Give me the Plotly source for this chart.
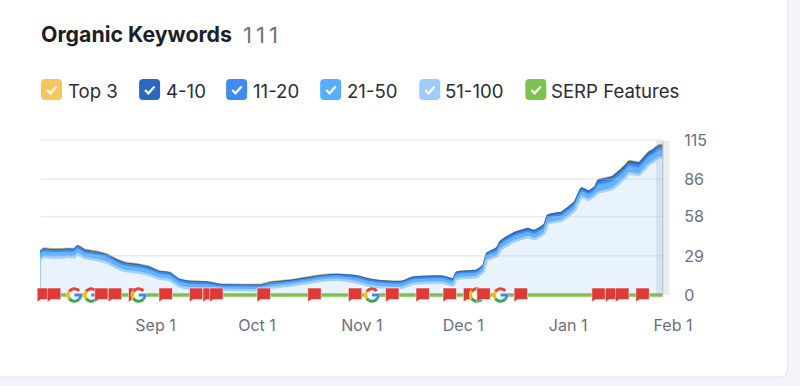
import numpy as np
import pandas as pd
import plotly.graph_objects as go

dates = ["2023-07-29","2023-07-30","2023-08-01","2023-08-04","2023-08-06","2023-08-08","2023-08-09","2023-08-11","2023-08-15","2023-08-18",
         "2023-08-20","2023-08-23","2023-08-27","2023-08-30","2023-09-02","2023-09-05","2023-09-08","2023-09-11","2023-09-16","2023-09-20",
         "2023-09-29","2023-10-02","2023-10-05","2023-10-11","2023-10-20","2023-10-25","2023-10-31","2023-11-03","2023-11-09","2023-11-13",
         "2023-11-16","2023-11-25","2023-11-28","2023-11-29","2023-12-05","2023-12-07","2023-12-08","2023-12-11","2023-12-12","2023-12-16",
         "2023-12-19","2023-12-20","2023-12-22","2023-12-25","2023-12-26","2023-12-29","2023-12-30","2024-01-03","2024-01-05","2024-01-07",
         "2024-01-09","2024-01-10","2024-01-14","2024-01-18","2024-01-19","2024-01-22","2024-01-25","2024-01-26","2024-01-28","2024-01-29"]
top3 = [.6]*14 + [0]*5 + [.5]*7 + [0]*11 + [0]*14 + [.6]*9
r4_10 = [1]*14 + [1]*5 + [.8]*7 + [1]*11 + [1.5]*14 + [2]*9
r11_20 = [1.5]*14 + [1.5]*5 + [1]*7 + [1.2]*11 + [1.5]*14 + [2]*9
r21_50 = [3]*14 + [2.5]*5 + [1.7]*7 + [2.3]*11 + [3]*14 + [4.5]*9
r51_100 = [26.5,28.5,27.9,27.9,28.3,28.1,30.5,27.5,25.9,23.6,20.9,17.9,16.6,14.9,
           12.3,11.3,6.4,4.9,4.5,
           3.9,3.6,3.6,5.4,7.0,10.6,11.3,
           9.1,7.1,5.4,5.4,8.3,9.1,7.1,12.0,13.5,17.5,25.9,
           28.8,33.5,39.8,42.2,43.0,41.5,46.0,52.8,54.6,55.0,63.0,73.0,70.7,74.0,
           76.2,78.7,87.3,90.3,89.3,97.2,98.5,102.2,101.9]
serp_features = [0]*len(dates)

flag_dates = ["2023-07-30","2023-08-02","2023-08-16","2023-08-20","2023-08-26","2023-09-04","2023-09-13","2023-09-17","2023-09-19",
              "2023-10-03","2023-10-18","2023-10-30","2023-11-10","2023-11-19","2023-11-27","2023-12-03","2023-12-07","2023-12-18",
              "2024-01-10","2024-01-14","2024-01-17","2024-01-23"]
google_dates = ["2023-08-08","2023-08-13","2023-08-27","2023-11-04","2023-12-05","2023-12-12"]

tick_dates = ["2023-09-01","2023-10-01","2023-11-01","2023-12-01","2024-01-01","2024-02-01"]
tick_text = ["Sep 1","Oct 1","Nov 1","Dec 1","Jan 1","Feb 1"]
y_ticks = [0,29,58,86,115]
legend_labels = ["Top 3","4-10","11-20","21-50","51-100","SERP Features"]
legend_colors = ["#f7c55c","#2b69c0","#3f8cf0","#57aefa","#9dcbfb","#7cc24c"]
legend_box_x = [41,139,226,320,419,525]
legend_text_x = [68,166,253,347,445,551]

W, H = 800, 386
ML, MR, MT, MB = 27, 127.4, 139, 78
PW, PH = W-ML-MR, H-MT-MB
def px(x): return (x-ML)/PW
def py(y): return 1-(y-MT)/PH

FONT = "Inter"
arr = np.array([r51_100, r21_50, r11_20, r4_10, top3])
cum = np.cumsum(arr, axis=0)
fig = go.Figure()
# painted from the top of the stack down, so each band covers the one above it
spec = [("Top 3", cum[4], "#f7c55c", "#f7c55c", 2.5),
        ("4-10", cum[3], "#2b69c0", "#2b69c0", 2.5),
        ("11-20", cum[2], "#3f8cf0", "#3f8cf0", 2.5),
        ("21-50", cum[1], "#64b3fa", "#64b3fa", 2.5),
        ("51-100", cum[0], "#a2cffd", "#e8f3fd", 2.5)]
for name, y, lc, fc, lw in spec:
    fig.add_trace(go.Scatter(x=dates, y=y, name=name, mode="lines",
                             line=dict(color=lc, width=lw, shape="spline", smoothing=0.5),
                             fill="tozeroy", fillcolor=fc, hoverinfo="skip", showlegend=False))
for t in y_ticks[1:]:
    fig.add_trace(go.Scatter(x=[dates[0], dates[-1]], y=[t,t], mode="lines",
                             line=dict(color="rgba(190,198,215,0.5)", width=1), hoverinfo="skip", showlegend=False))
fig.add_trace(go.Scatter(x=dates, y=serp_features, name="SERP Features", mode="lines",
                         line=dict(color="#7cc24c", width=3.5), hoverinfo="skip", showlegend=False))

shapes = []
shapes.append(dict(type="path", xref="paper", yref="paper", layer="below", line=dict(color="#e3e5ec", width=1), fillcolor="#ffffff",
    path=f"M {px(-20)} {py(-20)} L {px(787)} {py(-20)} L {px(787)} {py(370)} Q {px(787)} {py(377)} {px(780)} {py(377)} L {px(-20)} {py(377)} Z"))
shapes.append(dict(type="rect", xref="x", yref="y", layer="above", x0="2024-01-27", x1=dates[-1], y0=0, y1=114.5,
                   fillcolor="rgba(150,170,190,0.22)", line=dict(width=0)))
shapes.append(dict(type="rect", xref="x", yref="y", layer="below", x0=dates[-1], x1="2024-01-31", y0=0, y1=114.5,
                   fillcolor="#e9edee", line=dict(width=0)))
shapes.append(dict(type="line", xref="x", yref="y", layer="above", x0=dates[-1], x1=dates[-1], y0=0, y1=114.5,
                   line=dict(color="#b9c3cb", width=1)))

flag_path = "M -6.7 7 L 6.7 7 L 6.7 -4.5 L -3 -4.5 L -6.7 -7 Z"
def flag(d):
    return dict(type="path", xref="x", yref="y", xsizemode="pixel", ysizemode="pixel", xanchor=d, yanchor=0,
                path=flag_path, fillcolor="#dd3a38", line=dict(color="#ffffff", width=0.5), layer="above")
def arc(a0, a1, r=6.2):
    t = np.radians(np.linspace(a0, a1, 14))
    pts = [f"{r*np.cos(v):.2f} {r*np.sin(v):.2f}" for v in t]
    return "M " + " L ".join(pts)
def google(d):
    disc = dict(type="path", xref="x", yref="y", xsizemode="pixel", ysizemode="pixel", xanchor=d, yanchor=0,
                path=arc(0, 360, 8) + " Z", line=dict(width=0), fillcolor="#ffffff", layer="above")
    parts = [(arc(40,145),"#ea4335"), (arc(145,215),"#fbbc05"), (arc(215,320),"#34a853"),
             (arc(320,360)+" L 0 0","#4285f4")]
    return [disc] + [dict(type="path", xref="x", yref="y", xsizemode="pixel", ysizemode="pixel", xanchor=d, yanchor=0,
                 path=p, line=dict(color=c, width=3), fillcolor="rgba(0,0,0,0)", layer="above") for p,c in parts]
events = sorted([(d,"f") for d in flag_dates]+[(d,"g") for d in google_dates])
for d,k in events:
    if k=="f":
        shapes.append(flag(d))
    else:
        shapes.extend(google(d))

annotations = []
def text(x, y, s, size, color, bold=False):
    annotations.append(dict(xref="paper", yref="paper", x=px(x-2), y=py(y), xanchor="left", yanchor="middle", showarrow=False,
                            text=f"<b>{s}</b>" if bold else s, font=dict(family=FONT, size=size, color=color)))
text(41, 34.5, "Organic Keywords", 21.3, "#1c1f29", True)
text(243, 35, "1\u20091\u20091", 22, "#6f7280")
for lab, col, bx, tx in zip(legend_labels, legend_colors, legend_box_x, legend_text_x):
    x0, x1, y0, y1 = bx, bx+21, 79, 100
    r = 4
    shapes.append(dict(type="path", xref="paper", yref="paper", layer="above", line=dict(width=0), fillcolor=col,
        path=(f"M {px(x0+r)} {py(y0)} L {px(x1-r)} {py(y0)} Q {px(x1)} {py(y0)} {px(x1)} {py(y0+r)} L {px(x1)} {py(y1-r)} "
              f"Q {px(x1)} {py(y1)} {px(x1-r)} {py(y1)} L {px(x0+r)} {py(y1)} Q {px(x0)} {py(y1)} {px(x0)} {py(y1-r)} "
              f"L {px(x0)} {py(y0+r)} Q {px(x0)} {py(y0)} {px(x0+r)} {py(y0)} Z")))
    shapes.append(dict(type="path", xref="paper", yref="paper", layer="above", fillcolor="rgba(0,0,0,0)",
        line=dict(color="#ffffff", width=2.2),
        path=f"M {px(bx+6)} {py(90)} L {px(bx+9.3)} {py(93.3)} L {px(bx+15.5)} {py(86.5)}"))
    text(tx, 90.5, lab, 18.6, "#2a2d38")

y_per_px = 115/155
fig.update_layout(
    width=W, height=H, margin=dict(l=ML, r=MR, t=MT, b=MB, pad=0), autosize=False,
    paper_bgcolor="#f3f4f9", plot_bgcolor="rgba(0,0,0,0)",
    showlegend=False, shapes=shapes, annotations=annotations,
    xaxis=dict(type="date", range=["2023-07-25","2024-02-01"], tickmode="array", tickvals=tick_dates, ticktext=tick_text,
               showgrid=False, zeroline=False, showline=False, ticks="outside", ticklen=3, tickcolor="rgba(0,0,0,0)",
               tickfont=dict(family=FONT, size=16, color="#6c6f7b")),
    yaxis=dict(range=[-(H-MB-295)*y_per_px, (295-MT)*y_per_px], side="right", tickmode="array", tickvals=y_ticks,
               ticktext=[str(v) for v in y_ticks], showgrid=False, zeroline=False, showline=False,
               ticks="outside", ticklen=7, tickcolor="rgba(0,0,0,0)",
               tickfont=dict(family=FONT, size=16, color="#6c6f7b")),
)
fig.write_html("out.html", config=dict(displayModeBar=False), post_script="document.body.style.margin='0';")
